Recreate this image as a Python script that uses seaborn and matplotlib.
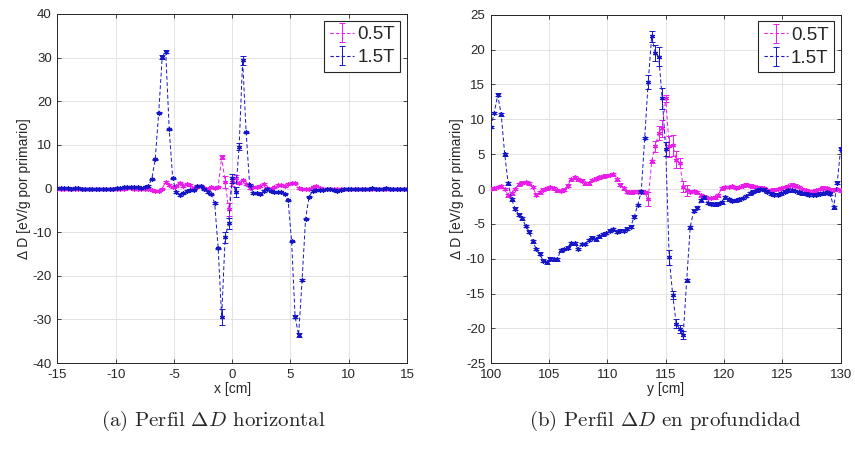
import numpy as np
import pandas as pd
import matplotlib
matplotlib.use("Agg")
import matplotlib.pyplot as plt
import seaborn as sns
from matplotlib.lines import Line2D

# ---------------- data ----------------
x_h = np.round(np.arange(-15.0, 15.0001, 0.3), 1)      # horizontal profile positions [cm]
y_p = np.round(np.arange(100.0, 130.0001, 0.3), 1)     # depth profile positions [cm]

dD_h_05 = [0.0, 0.0, 0.0, 0.0, 0.0, 0.0, 0.0, 0.0, 0.0, 0.0,
           0.0, 0.0, 0.0, 0.0, 0.0, 0.0, 0.0, 0.0, 0.0, 0.0,
           0.1, 0.1, 0.0, 0.0, 0.0, -0.1, -0.1, -0.3, -0.6, -0.5,
           0.0, 1.5, 0.8, 0.3, 0.5, 1.3, 0.6, 1.1, 0.8, 0.2,
           0.4, 0.6, 0.2, 0.0, 0.3, 0.1, 0.4, 7.2, 1.5, -4.8,
           1.6, 2.3, 1.2, 1.9, 1.0, 0.1, 0.4, 0.3, 0.6, 1.0,
           0.2, -0.2, 0.3, 0.8, 0.7, 0.6, 1.0, 1.3, 1.2, 0.1,
           0.0, -0.1, -0.2, 0.3, 0.5, 0.1, 0.0, 0.0, 0.0, 0.0,
           0.0, 0.0, 0.0, 0.0, 0.0, 0.0, 0.0, 0.0, 0.0, 0.0,
           0.0, 0.0, 0.0, 0.0, 0.0, 0.0, 0.0, 0.0, 0.0, 0.0, 0.0]

dD_h_15 = [0.1, 0.1, 0.1, 0.1, 0.0, 0.1, 0.1, 0.0, 0.0, 0.0,
           0.0, -0.1, -0.1, -0.2, -0.2, -0.1, 0.0, 0.1, 0.2, 0.3,
           0.4, 0.4, 0.3, 0.3, 0.2, 0.3, 0.6, 2.1, 6.7, 17.4,
           30.2, 31.4, 13.6, 2.3, -0.8, -1.5, -1.1, -0.6, -0.4, -0.3,
           0.6, 0.5, -0.2, -0.8, -1.3, -3.3, -13.7, -29.4, -11.2, -8.0,
           2.3, -0.8, 9.6, 29.4, 12.9, 0.8, -1.0, -1.1, -1.3, -0.6,
           -0.1, -0.5, -0.7, -0.7, -0.9, -1.2, -2.7, -12.1, -29.4, -33.6,
           -21.0, -6.9, -1.9, -0.6, -0.4, -0.3, -0.3, -0.2, -0.2, -0.3,
           -0.5, -0.3, -0.2, -0.1, -0.1, 0.0, 0.0, -0.1, 0.0, 0.0,
           0.1, 0.0, 0.0, 0.0, 0.1, 0.0, 0.0, 0.0, 0.0, 0.0, 0.0]

dD_p_05 = [0.0, 0.1, 0.3, 0.4, 0.0, -0.9, -0.6, 0.0, 0.7, 0.9,
           1.0, 0.8, 0.3, -0.8, -0.5, -0.1, 0.1, 0.3, 0.1, -0.2,
           -0.3, -0.1, 0.5, 1.4, 1.7, 1.4, 1.2, 0.8, 0.8, 1.3,
           1.5, 1.7, 1.8, 1.9, 2.0, 2.1, 1.4, 0.6, 0.1, -0.4,
           -0.5, -0.4, -0.4, -0.3, -0.5, -1.5, 4.0, 6.1, 8.0, 8.7,
           13.0, 6.1, 6.3, 4.2, 3.7, 0.3, -0.2, -0.4, -0.3, -0.5,
           -0.9, -1.1, -1.3, -1.3, -1.2, -0.9, 0.1, 0.3, 0.3, 0.4,
           0.2, 0.3, 0.5, 0.6, 0.5, 0.4, 0.3, 0.2, 0.1, -0.2,
           -0.2, -0.1, 0.0, 0.1, 0.3, 0.4, 0.6, 0.5, 0.3, 0.0,
           -0.2, -0.3, -0.3, -0.2, 0.0, 0.2, 0.1, -0.1, -0.1, 0.0, -0.2]

dD_p_15 = [8.9, 10.9, 13.5, 10.7, 5.0, 0.8, -1.5, -2.8, -3.7, -4.2,
           -5.3, -6.1, -7.5, -8.6, -9.3, -10.3, -10.5, -10.0, -10.1, -10.1,
           -8.8, -8.6, -8.4, -7.8, -7.8, -8.6, -7.9, -7.9, -7.3, -7.0,
           -7.2, -6.8, -6.5, -6.3, -6.0, -5.8, -6.1, -6.0, -6.0, -5.7,
           -5.4, -4.0, -2.3, -0.4, 7.3, 15.4, 21.9, 19.5, 19.0, 13.0,
           5.8, -9.8, -15.2, -19.3, -20.1, -20.9, -13.1, -5.5, -3.1, -2.7,
           -1.6, -1.2, -2.0, -2.1, -2.2, -2.1, -1.9, -1.2, -1.5, -1.7,
           -1.6, -1.5, -1.3, -1.0, -0.6, -0.4, -0.2, 0.0, -0.1, -0.4,
           -0.7, -0.8, -0.8, -0.6, -0.4, -0.2, -0.2, -0.3, -0.5, -0.6,
           -0.7, -0.8, -0.8, -0.8, -0.7, -0.6, -0.5, -0.7, -2.6, 0.9, 5.8]

# error bar half-lengths (typical value, plus larger ones read near the peaks)
err_base_h = 0.15
err_base_p = 0.2
err_h_05 = {-0.9: 0.4, -0.6: 1.4, -0.3: 1.5, 0.0: 1.0, 0.3: 0.8}
err_h_15 = {-6.0: 0.5, -5.7: 0.4, -0.9: 1.8, -0.6: 1.2, -0.3: 1.2, 0.0: 1.0,
            0.3: 1.2, 0.6: 0.8, 0.9: 1.0, 5.4: 0.3, 5.7: 0.5}
err_p_05 = {113.5: 1.0, 114.1: 0.8, 114.4: 1.0, 114.7: 1.2, 115.0: 0.5,
            115.3: 1.5, 115.6: 1.5, 115.9: 1.2, 116.2: 0.7, 116.5: 0.8, 116.8: 0.8}
err_p_15 = {113.5: 1.0, 113.8: 0.8, 114.1: 1.2, 114.4: 1.3, 114.7: 1.5, 115.0: 1.0,
            115.3: 1.1, 115.6: 0.6, 115.9: 0.7, 116.2: 0.6, 116.5: 0.6}

labels = ["0.5T", "1.5T"]
x_ticks_h = [-15, -10, -5, 0, 5, 10, 15]
y_ticks_h = [-40, -30, -20, -10, 0, 10, 20, 30, 40]
x_ticks_p = [100, 105, 110, 115, 120, 125, 130]
y_ticks_p = [-25, -20, -15, -10, -5, 0, 5, 10, 15, 20, 25]

# ---------------- style ----------------
sns.set_style("white")
plt.rcParams["font.family"] = ["Liberation Sans", "DejaVu Sans"]
plt.rcParams["mathtext.fontset"] = "cm"
plt.rcParams["axes.unicode_minus"] = False

colors = {"0.5T": "#e81ee8", "1.5T": "#1616c8"}
asterisk = (6, 2, 0)

fig = plt.figure(figsize=(8.55, 4.5), dpi=100)
axL = fig.add_axes([57.3 / 855, 1 - 363 / 450, 349.7 / 855, 349 / 450])
axR = fig.add_axes([490.7 / 855, 1 - 363.3 / 450, 350 / 855, 348.6 / 450])


def draw(ax, xs, series, errs, base, xlab, xlim, ylim, xt, yt):
    handles = []
    for lab, vals, ed in zip(labels, series, errs):
        c = colors[lab]
        df = pd.DataFrame({"pos": xs, "dD": vals})
        e = np.array([ed.get(round(float(v), 1), base) for v in xs])
        sns.lineplot(data=df, x="pos", y="dD", ax=ax, color=c, linestyle=(0, (4, 2.5)),
                     linewidth=0.7, marker=asterisk, markersize=3.5,
                     markeredgewidth=0.9, markeredgecolor=c, legend=False, zorder=3)
        eb = ax.errorbar(df["pos"], df["dD"], yerr=e, fmt="none", ecolor=c,
                         elinewidth=0.7, capsize=2.2, capthick=0.7, zorder=3)
        ln = Line2D([], [], color=c, linestyle=(0, (3, 2)), linewidth=0.8)
        handles.append((ln, eb))
    ax.set_xlim(*xlim)
    ax.set_ylim(*ylim)
    ax.set_xticks(xt)
    ax.set_yticks(yt)
    ax.grid(True, color="#e3e3e3", linewidth=0.7)
    ax.set_axisbelow(True)
    for s in ax.spines.values():
        s.set_color("#262626")
        s.set_linewidth(0.7)
    ax.tick_params(direction="in", length=3, width=0.6, top=True, right=True,
                   labelsize=9.5, colors="#262626", pad=4, bottom=True, left=True)
    ax.set_xlabel(xlab, fontsize=10, color="#262626", labelpad=1)
    ax.set_ylabel("Δ D [eV/g por primario]", fontsize=10, color="#262626", labelpad=1)
    leg = ax.legend(handles, labels, loc="upper right", fontsize=13.5, frameon=True,
                    fancybox=False, edgecolor="#262626", framealpha=1,
                    handlelength=1.3, handletextpad=0.15, borderpad=0.3,
                    labelspacing=0.3, borderaxespad=0.35)
    leg.get_frame().set_linewidth(0.8)


draw(axL, x_h, [dD_h_05, dD_h_15], [err_h_05, err_h_15], err_base_h,
     "x [cm]", (-15, 15), (-40, 40), x_ticks_h, y_ticks_h)
draw(axR, y_p, [dD_p_05, dD_p_15], [err_p_05, err_p_15], err_base_p,
     "y [cm]", (100, 130), (-25, 25), x_ticks_p, y_ticks_p)

fig.text(213 / 855, 1 - 421 / 450, r"(a) Perfil $\Delta D$ horizontal", ha="center",
         va="center", fontsize=15, family="cmr10")
fig.text(665 / 855, 1 - 421 / 450, r"(b) Perfil $\Delta D$ en profundidad", ha="center",
         va="center", fontsize=15, family="cmr10")

fig.savefig("out.png", dpi=100)
